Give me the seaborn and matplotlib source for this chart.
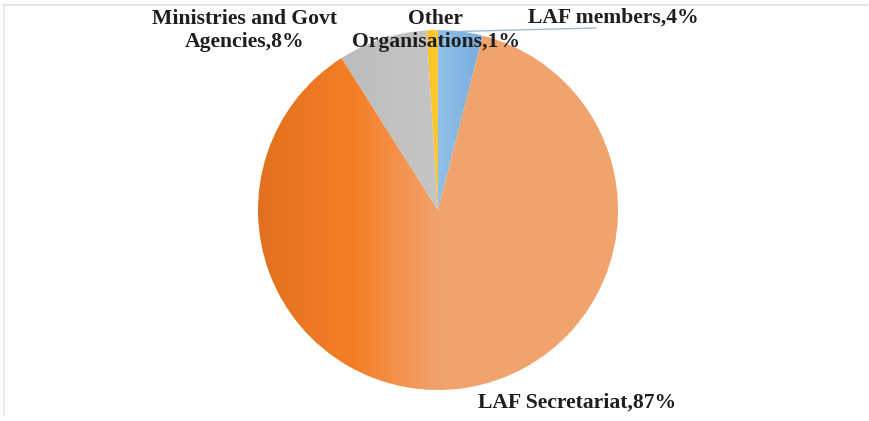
import numpy as np
import matplotlib
matplotlib.use("Agg")
import matplotlib.pyplot as plt
from matplotlib.colors import LinearSegmentedColormap
from matplotlib.lines import Line2D
import seaborn as sns

# Share of contributions by source
categories = ["LAF members", "LAF Secretariat", "Ministries and Govt\nAgencies", "Other\nOrganisations"]
shares = [4, 87, 8, 1]

# Horizontal gradient stops for each slice (position, colour)
gradients = [
    [(0.0, "#92C0E8"), (1.0, "#78ADE0")],
    [(0.0, "#E2701E"), (0.27, "#F57F28"), (0.5, "#F1A36D"), (1.0, "#F2A46F")],
    [(0.0, "#BCBCBC"), (1.0, "#C6C6C6")],
    [(0.0, "#FFC21A"), (1.0, "#FAC93A")],
]

sns.set_theme(style="white")
plt.rcParams["font.family"] = ["Liberation Serif", "DejaVu Serif"]

W, H = 870, 421
fig = plt.figure(figsize=(W / 100, H / 100), dpi=100)
fig.patch.set_facecolor("white")

# pie centred at (438, 210) px with a 180 px radius
cx, cy, r = 438, 210, 180
ax = fig.add_axes([(cx - r) / W, (H - cy - r) / H, 2 * r / W, 2 * r / H])

wedges, _ = ax.pie(shares, startangle=90, counterclock=False,
                   wedgeprops=dict(linewidth=0, edgecolor="none"))
ax.set_xlim(-1, 1)
ax.set_ylim(-1, 1)
ax.set_aspect("auto")
ax.axis("off")

for w, stops in zip(wedges, gradients):
    cmap = LinearSegmentedColormap.from_list("g", stops)
    verts = w.get_path().vertices
    x0, x1 = verts[:, 0].min(), verts[:, 0].max()
    y0, y1 = verts[:, 1].min(), verts[:, 1].max()
    grad = np.linspace(0, 1, 256).reshape(1, -1)
    im = ax.imshow(grad, cmap=cmap, extent=[x0, x1, y0, y1], aspect="auto",
                   interpolation="bilinear", zorder=w.get_zorder())
    im.set_clip_path(w)
    w.set_facecolor("none")
ax.set_xlim(-1, 1)
ax.set_ylim(-1, 1)


def px(x, y):
    return (x - cx) / r, (cy - y) / r


text_kw = dict(fontsize=15.6, fontweight="bold", color="#1E1E1E",
               ha="center", va="center", linespacing=1.2)
label_pos = [(613, 18), (577, 403), (245, 31), (436, 31)]
for name, val, (lx, ly) in zip(categories, shares, label_pos):
    ax.text(*px(lx, ly), f"{name},{val}%", **text_kw)

# leader line for the small blue slice
mid = np.deg2rad(90 - shares[0] / sum(shares) * 360 / 2)
ax.plot([np.cos(mid), px(596, 28)[0]], [np.sin(mid), px(596, 28)[1]],
        color="#A9B7CA", lw=1.0, clip_on=False, zorder=5)

# chart-area border (top and left)
fig.add_artist(Line2D([3 / W, 868 / W], [1 - 4.5 / H, 1 - 4.5 / H], color="#DEDFE4", lw=1.2))
fig.add_artist(Line2D([4 / W, 4 / W], [1 - 4.5 / H, 1 - 416 / H], color="#E6E6EC", lw=1.2))

fig.savefig("out.png", dpi=100, facecolor="white")
